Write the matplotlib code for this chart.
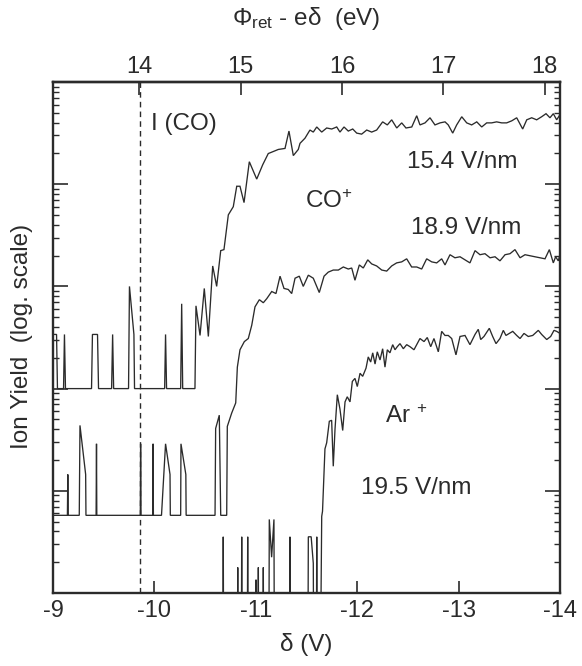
import matplotlib
matplotlib.use('Agg')
import matplotlib.pyplot as plt
import numpy as np
from matplotlib.ticker import LogLocator, NullFormatter

plt.rcParams['font.family'] = ['Liberation Sans', 'DejaVu Sans']
plt.rcParams['mathtext.fontset'] = 'custom'
plt.rcParams['mathtext.rm'] = 'Liberation Sans'
plt.rcParams['mathtext.it'] = 'Liberation Sans:italic'
plt.rcParams['axes.unicode_minus'] = False

# ---------------- data (delta in V, log10 of ion yield) ----------------
PHI_RET = 4.15          # eV, top axis = PHI_RET - delta
I_CO = 14.01            # ionisation energy of CO (eV)

co154_delta = [-9.000, -9.035, -9.044, -9.104, -9.113, -9.123, -9.380, -9.389, -9.439, -9.449,
               -9.578, -9.588, -9.598, -9.745, -9.754, -9.798, -9.804, -10.101, -10.110, -10.120,
               -10.259, -10.269, -10.279, -10.400, -10.410, -10.450, -10.492, -10.532, -10.575, -10.614,
               -10.654, -10.686, -10.729, -10.778, -10.812, -10.844, -10.884, -10.936, -11.009, -11.068,
               -11.123, -11.173, -11.222, -11.288, -11.327, -11.370, -11.419, -11.436, -11.485, -11.534,
               -11.567, -11.601, -11.650, -11.699, -11.749, -11.798, -11.830, -11.870, -11.912, -11.956,
               -11.995, -12.044, -12.094, -12.143, -12.192, -12.251, -12.297, -12.340, -12.390, -12.439,
               -12.481, -12.538, -12.587, -12.619, -12.669, -12.718, -12.767, -12.817, -12.866, -12.898,
               -12.942, -12.981, -13.031, -13.080, -13.129, -13.179, -13.228, -13.277, -13.326, -13.375,
               -13.425, -13.474, -13.524, -13.573, -13.632, -13.672, -13.721, -13.770, -13.819, -13.862,
               -13.901, -13.934, -13.967, -14.000]
co154_log = [2.53, 2.53, 2.0, 2.0, 2.53, 2.0, 2.0, 2.53, 2.53, 2.0,
             2.0, 2.53, 2.0, 2.0, 3.0, 2.53, 2.0, 2.0, 2.53, 2.0,
             2.0, 2.83, 2.0, 2.0, 2.81, 2.52, 2.98, 2.51, 3.20, 3.00,
             3.35, 3.36, 3.70, 3.78, 3.98, 3.98, 3.82, 4.22, 4.05, 4.19,
             4.30, 4.32, 4.34, 4.35, 4.52, 4.28, 4.34, 4.40, 4.45, 4.53,
             4.51, 4.56, 4.51, 4.55, 4.54, 4.56, 4.51, 4.56, 4.52, 4.54,
             4.50, 4.49, 4.53, 4.51, 4.53, 4.61, 4.58, 4.63, 4.55, 4.60,
             4.55, 4.56, 4.67, 4.58, 4.60, 4.65, 4.58, 4.60, 4.61, 4.58,
             4.50, 4.58, 4.66, 4.60, 4.58, 4.61, 4.56, 4.60, 4.60, 4.61,
             4.60, 4.60, 4.62, 4.65, 4.54, 4.63, 4.65, 4.63, 4.66, 4.69,
             4.65, 4.69, 4.63, 4.68]

co189_delta = [-9.000, -9.142, -9.146, -9.150, -9.259, -9.266, -9.322, -9.325, -9.425, -9.429,
               -9.432, -9.861, -9.864, -9.868, -9.984, -9.987, -9.990, -10.070, -10.110, -10.154,
               -10.157, -10.259, -10.262, -10.310, -10.313, -10.598, -10.604, -10.640, -10.654, -10.713,
               -10.719, -10.762, -10.802, -10.818, -10.844, -10.887, -10.926, -10.960, -10.992, -11.035,
               -11.074, -11.108, -11.157, -11.199, -11.239, -11.278, -11.320, -11.354, -11.387, -11.429,
               -11.468, -11.518, -11.567, -11.626, -11.673, -11.715, -11.764, -11.814, -11.863, -11.912,
               -11.946, -11.978, -12.021, -12.060, -12.104, -12.143, -12.192, -12.242, -12.291, -12.340,
               -12.389, -12.439, -12.488, -12.537, -12.587, -12.636, -12.685, -12.735, -12.784, -12.833,
               -12.866, -12.915, -12.964, -13.014, -13.063, -13.112, -13.162, -13.211, -13.260, -13.310,
               -13.359, -13.408, -13.458, -13.507, -13.556, -13.606, -13.655, -13.704, -13.753, -13.803,
               -13.852, -13.895, -13.934, -13.957, -13.983, -14.000]
co189_log = [0.76, 0.76, 1.16, 0.76, 0.76, 1.64, 1.16, 0.76, 0.76, 1.46,
             0.76, 0.76, 1.46, 0.76, 0.76, 1.46, 0.76, 0.76, 1.46, 1.16,
             0.76, 0.76, 1.46, 1.16, 0.76, 0.76, 1.61, 1.74, 0.76, 0.76,
             1.63, 1.76, 1.86, 2.21, 2.38, 2.46, 2.49, 2.62, 2.80, 2.87,
             2.84, 2.88, 2.95, 2.93, 3.10, 2.98, 2.97, 2.93, 3.08, 3.10,
             3.00, 3.11, 3.08, 2.94, 3.10, 3.14, 3.16, 3.16, 3.19, 3.17,
             3.18, 3.06, 3.21, 3.18, 3.26, 3.22, 3.20, 3.16, 3.15, 3.20,
             3.23, 3.24, 3.27, 3.19, 3.19, 3.17, 3.27, 3.24, 3.23, 3.27,
             3.21, 3.31, 3.28, 3.29, 3.26, 3.23, 3.35, 3.31, 3.32, 3.28,
             3.29, 3.25, 3.31, 3.32, 3.36, 3.28, 3.31, 3.30, 3.29, 3.28,
             3.27, 3.36, 3.23, 3.29, 3.25, 3.31]

# Ar+: -1 marks zero counts (below the plotted range)
ar195_delta = [-9.000, -10.675, -10.679, -10.684, -10.817, -10.822, -10.826, -10.856, -10.861, -10.866,
               -10.915, -10.920, -10.925, -10.997, -11.002, -11.007, -11.020, -11.025, -11.030, -11.069,
               -11.074, -11.079, -11.128, -11.133, -11.156, -11.179, -11.184, -11.332, -11.337, -11.342,
               -11.513, -11.518, -11.546, -11.567, -11.572, -11.596, -11.601, -11.606, -11.635, -11.650,
               -11.658, -11.682, -11.699, -11.725, -11.748, -11.764, -11.781, -11.804, -11.830, -11.857,
               -11.880, -11.902, -11.929, -11.952, -11.978, -12.001, -12.028, -12.054, -12.087, -12.109,
               -12.133, -12.153, -12.176, -12.198, -12.225, -12.251, -12.274, -12.297, -12.323, -12.350,
               -12.373, -12.395, -12.422, -12.455, -12.488, -12.521, -12.560, -12.619, -12.659, -12.691,
               -12.725, -12.757, -12.800, -12.833, -12.866, -12.898, -12.932, -12.974, -13.014, -13.063,
               -13.112, -13.162, -13.194, -13.218, -13.250, -13.303, -13.336, -13.369, -13.408, -13.441,
               -13.467, -13.500, -13.534, -13.573, -13.606, -13.645, -13.687, -13.731, -13.786, -13.819,
               -13.869, -13.908, -13.941, -13.967, -14.000]
ar195_log = [-1, -1, 0.55, -1, -1, 0.25, -1, -1, 0.55, -1,
             -1, 0.55, -1, -1, 0.13, -1, -1, 0.25, -1, -1,
             0.25, -1, -1, 0.72, 0.35, 0.72, -1, -1, 0.55, -1,
             -1, 0.55, 0.55, 0.29, -1, -1, 0.55, -1, -1, 0.75,
             0.80, 1.41, 1.47, 1.68, 1.69, 1.24, 1.60, 1.94, 1.80, 1.59,
             1.87, 1.92, 1.87, 2.07, 2.10, 2.02, 2.15, 2.12, 2.20, 2.31,
             2.26, 2.35, 2.24, 2.36, 2.28, 2.39, 2.21, 2.38, 2.35, 2.43,
             2.38, 2.41, 2.44, 2.39, 2.43, 2.41, 2.38, 2.49, 2.46, 2.50,
             2.41, 2.49, 2.36, 2.56, 2.52, 2.52, 2.49, 2.33, 2.51, 2.52,
             2.43, 2.53, 2.58, 2.48, 2.51, 2.59, 2.51, 2.44, 2.49, 2.57,
             2.52, 2.54, 2.56, 2.52, 2.49, 2.54, 2.51, 2.52, 2.57, 2.53,
             2.48, 2.51, 2.57, 2.56, 2.54]

x_ticks = [-9, -10, -11, -12, -13, -14]
x_ticklabels = ['-9', '-10', '-11', '-12', '-13', '-14']
top_ticks = [14, 15, 16, 17, 18]

# ---------------- figure ----------------
INK = '#2b2b2b'
W, H = 582, 666
fig = plt.figure(figsize=(W / 100, H / 100), dpi=100)
fig.patch.set_facecolor('white')
ax = fig.add_axes([53 / W, (H - 593) / H, 507 / W, 511 / H])

for d, l in [(co154_delta, co154_log), (co189_delta, co189_log), (ar195_delta, ar195_log)]:
    ax.plot(d, 10 ** np.array(l), color=INK, lw=0.95, solid_joinstyle='miter')

ax.axvline(PHI_RET - I_CO, color=INK, lw=1.0, ls=(0, (4, 3)))

ax.set_yscale('log')
ax.set_ylim(1, 1e5)
ax.set_xlim(-9, -14)

ax.yaxis.set_major_locator(LogLocator(base=10, numticks=10))
ax.yaxis.set_minor_locator(LogLocator(base=10, subs=np.arange(2, 10), numticks=20))
ax.yaxis.set_major_formatter(NullFormatter())
ax.yaxis.set_minor_formatter(NullFormatter())
ax.tick_params(axis='y', which='major', direction='in', length=11, width=1.2,
               left=True, right=True, color=INK)
ax.tick_params(axis='y', which='minor', direction='in', length=4.5, width=1.0,
               left=True, right=True, color=INK)

fs_tick = 17
fs = 17.5

ax.set_xticks(x_ticks)
ax.set_xticklabels(x_ticklabels)
ax.tick_params(axis='x', which='major', direction='in', length=9, width=1.2,
               top=False, labelsize=fs_tick, pad=5, color=INK, labelcolor=INK)

for s in ax.spines.values():
    s.set_linewidth(1.7)
    s.set_color(INK)

sec = ax.secondary_xaxis('top', functions=(lambda d: PHI_RET - d, lambda e: PHI_RET - e))
sec.set_xticks(top_ticks)
sec.set_xticklabels([str(t) for t in top_ticks])
sec.tick_params(axis='x', direction='in', length=9, width=1.2, labelsize=fs_tick, pad=3,
                color=INK, labelcolor=INK)
sec.spines['top'].set_linewidth(1.7)
sec.spines['top'].set_color(INK)

# ---------------- labels ----------------
def axtext(px, py, s):
    ax.text((px - 53) / 507, (593 - py) / 511, s, transform=ax.transAxes,
            ha='left', va='center', fontsize=fs, color=INK)

axtext(151, 124, 'I (CO)')
axtext(407, 162, '15.4 V/nm')
axtext(305, 202, 'CO$^{+}$')
axtext(411, 228, '18.9 V/nm')
axtext(385, 417, 'Ar $^{+}$')
axtext(361, 488, '19.5 V/nm')

fig.text(22 / W, 1 - 336 / H, 'Ion Yield  (log. scale)', rotation=90, ha='center', va='center',
         fontsize=fs, color=INK)
fig.text(306 / W, 1 - 644 / H, 'δ (V)', ha='center', va='center', fontsize=fs, color=INK)
fig.text(306 / W, 1 - 19 / H, 'Φ$_{\\mathrm{ret}}$ - eδ  (eV)', ha='center', va='center',
         fontsize=fs, color=INK)

fig.savefig('out.png', dpi=100, facecolor='white')
